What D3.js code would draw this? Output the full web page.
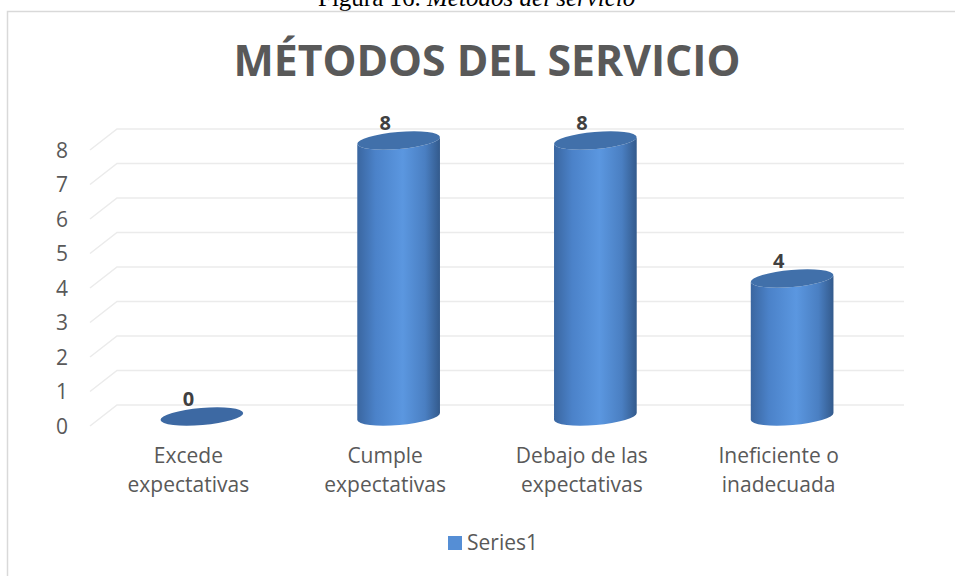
<!DOCTYPE html>
<html lang="es">
    <head>
        <meta charset="utf-8">
        <title>Métodos del servicio</title>
        <script src="https://d3js.org/d3.v7.min.js"></script>
        <style type="text/css">
            body { margin: 0; background: #ffffff; }
            svg { display: block; }
            .tick-label, .cat-label, .legend-text {
                font-family: "Open Sans", sans-serif;
                font-size: 21px;
                fill: #595959;
            }
        </style>
    </head>
    <body>
        <script type="text/javascript">

            //1. Chart size
            const svgW = 955;
            const svgH = 576;

            //2. Data
            const categories = [
                ["Excede", "expectativas"],
                ["Cumple", "expectativas"],
                ["Debajo de las", "expectativas"],
                ["Ineficiente o", "inadecuada"]
            ];
            const values = [0, 8, 8, 4];
            const yTicks = [0, 1, 2, 3, 4, 5, 6, 7, 8];
            const seriesName = "Series1";

            // 3D depth of the floor (front edge is left/down of the back wall)
            const depthX = -27;
            const depthY = 21;

            //3. Scales (back wall plane)
            const xScale = d3.scaleBand()
                             .domain(d3.range(categories.length))
                             .range([117, 904]);

            const yScale = d3.scaleLinear()
                             .domain([0, 8])
                             .range([405, 129]);

            //4. SVG
            const svg = d3.select("body")
                        .append("svg")
                        .attr("width", svgW)
                        .attr("height", svgH);

            // caption above the chart box (cut at the top of the page)
            const caption = svg.append("text")
                .attr("x", 318)
                .attr("y", 6)
                .attr("font-family", "'Liberation Serif', 'Times New Roman', serif")
                .attr("font-size", "25px")
                .attr("fill", "#000");
            caption.append("tspan").text("Figura 16. ");
            caption.append("tspan").attr("font-style", "italic").text("Métodos del servicio");

            // chart area border
            svg.append("rect")
                .attr("x", 7.5)
                .attr("y", 11.5)
                .attr("width", 980)
                .attr("height", 620)
                .attr("fill", "#ffffff")
                .attr("stroke", "#d9d9d9")
                .attr("stroke-width", 1.5);

            // title
            svg.append("text")
                .attr("x", 487)
                .attr("y", 76)
                .attr("text-anchor", "middle")
                .attr("font-family", "'Open Sans', sans-serif")
                .attr("font-weight", "bold")
                .attr("font-size", "43px")
                .attr("fill", "#595959")
                .attr("textLength", 507)
                .attr("lengthAdjust", "spacingAndGlyphs")
                .text("MÉTODOS DEL SERVICIO");

            //5. Gridlines: back wall line + diagonal on the floor side
            const x0 = xScale.range()[0];
            const x1 = xScale.range()[1];

            const grid = svg.append("g").attr("class", "grid");
            grid.selectAll("path")
                .data(yTicks)
                .enter()
                .append("path")
                .attr("d", d => "M" + (x0 + depthX) + "," + (yScale(d) + depthY) +
                                "L" + x0 + "," + yScale(d) +
                                "L" + x1 + "," + yScale(d))
                .attr("fill", "none")
                .attr("stroke", "#ebebeb")
                .attr("stroke-width", 1.5);

            // y tick labels sit at the front edge
            svg.append("g")
                .selectAll("text")
                .data(yTicks)
                .enter()
                .append("text")
                .attr("class", "tick-label")
                .attr("x", 68)
                .attr("y", d => yScale(d) + depthY)
                .attr("dy", "0.36em")
                .attr("text-anchor", "end")
                .text(d => d);

            //6. Cylinders
            const defs = svg.append("defs");
            const grad = defs.append("linearGradient")
                .attr("id", "cyl")
                .attr("x1", "0%").attr("x2", "100%")
                .attr("y1", "0%").attr("y2", "0%");
            grad.append("stop").attr("offset", "0%").attr("stop-color", "#3a66a0");
            grad.append("stop").attr("offset", "22%").attr("stop-color", "#4b82c9");
            grad.append("stop").attr("offset", "55%").attr("stop-color", "#5b97e0");
            grad.append("stop").attr("offset", "82%").attr("stop-color", "#4a7fc2");
            grad.append("stop").attr("offset", "100%").attr("stop-color", "#335a8c");

            const rx = 41.5;
            const ry = 8.5;
            const tilt = -5;
            const ax = rx * Math.cos(tilt * Math.PI / 180);
            const ay = rx * Math.sin(tilt * Math.PI / 180);
            const barX = i => xScale(i) + xScale.bandwidth() / 2 + depthX / 2;
            const barY = v => yScale(v) + depthY / 2 + 1;

            const bars = svg.append("g")
                .selectAll("g")
                .data(values)
                .enter()
                .append("g");

            bars.append("path")
                .attr("d", (d, i) => {
                    const cx = barX(i);
                    const yt = barY(d);
                    const yb = barY(0);
                    return "M" + (cx - ax) + "," + (yt - ay) +
                           "L" + (cx - ax) + "," + (yb - ay) +
                           "A" + rx + "," + ry + " " + tilt + " 0 0 " + (cx + ax) + "," + (yb + ay) +
                           "L" + (cx + ax) + "," + (yt + ay) +
                           "A" + rx + "," + ry + " " + tilt + " 0 1 " + (cx - ax) + "," + (yt - ay) + "Z";
                })
                .attr("fill", "url(#cyl)");

            bars.append("ellipse")
                .attr("cx", (d, i) => barX(i))
                .attr("cy", d => barY(d))
                .attr("rx", rx)
                .attr("ry", ry)
                .attr("transform", (d, i) => "rotate(" + tilt + "," + barX(i) + "," + barY(d) + ")")
                .attr("fill", d => d === 0 ? "#3d69a3" : "#4170aa");

            //7. Data labels
            svg.append("g")
                .selectAll("text")
                .data(values)
                .enter()
                .append("text")
                .attr("x", (d, i) => xScale(i) + xScale.bandwidth() / 2 + depthX)
                .attr("y", d => yScale(d) + 1)
                .attr("text-anchor", "middle")
                .attr("font-family", "'Open Sans', sans-serif")
                .attr("font-weight", "bold")
                .attr("font-size", "20px")
                .attr("fill", "#404040")
                .text(d => d);

            //8. Category labels (front edge)
            svg.append("g")
                .selectAll("text")
                .data(categories)
                .enter()
                .append("text")
                .attr("class", "cat-label")
                .attr("text-anchor", "middle")
                .attr("x", (d, i) => xScale(i) + xScale.bandwidth() / 2 + depthX)
                .attr("y", 463)
                .each(function (d) {
                    const t = d3.select(this);
                    const cx = t.attr("x");
                    d.forEach((line, k) => {
                        t.append("tspan")
                            .attr("x", cx)
                            .attr("dy", k === 0 ? 0 : 29)
                            .text(line);
                    });
                });

            //9. Legend
            const legend = svg.append("g");
            legend.append("rect")
                .attr("x", 448)
                .attr("y", 536)
                .attr("width", 14)
                .attr("height", 14)
                .attr("fill", "#558ed5");
            legend.append("text")
                .attr("class", "legend-text")
                .attr("x", 467)
                .attr("y", 550)
                .text(seriesName);

        </script>
    </body>
</html>
